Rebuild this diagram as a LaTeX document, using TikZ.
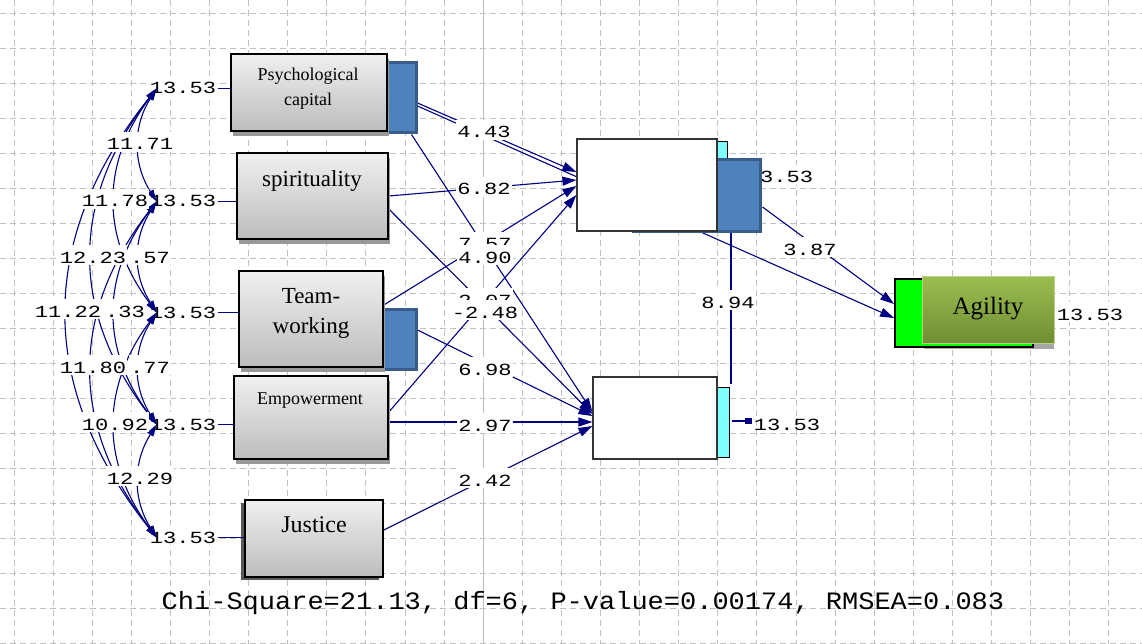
\documentclass[tikz,border=0pt]{standalone}
\usepackage{fontspec}
\setmainfont{Liberation Serif}
\newfontfamily\lisfont[FakeStretch=1.3]{Liberation Mono}
\newfontfamily\chifont[FakeStretch=1.08]{Liberation Mono}
\usetikzlibrary{arrows.meta,shadows,calc}
\pgfdeclarelayer{bg}
\pgfdeclarelayer{paths}
\pgfsetlayers{bg,paths,main}

\definecolor{pathblue}{RGB}{0,0,128}
\definecolor{gridgray}{RGB}{192,192,192}
\definecolor{boxtop}{RGB}{240,240,240}
\definecolor{boxbot}{RGB}{188,188,188}
\definecolor{errblue}{RGB}{79,129,189}
\definecolor{errborder}{RGB}{56,93,138}
\definecolor{aqua}{RGB}{128,255,255}
\definecolor{lime}{RGB}{0,255,0}
\definecolor{olivetop}{RGB}{155,190,80}
\definecolor{olivebot}{RGB}{112,142,52}

\tikzset{
  gridline/.style={draw=gridgray, line width=0.9pt, dash pattern=on 6pt off 4pt},
  gridsolid/.style={draw=gridgray, line width=1pt},
  exobase/.style={draw=black, line width=1.6pt, top color=boxtop, bottom color=boxbot, inner sep=0pt},
  exobox/.style={exobase, drop shadow={shadow xshift=2pt, shadow yshift=-5pt, fill=black!40, opacity=1}},
  errbox/.style={fill=errblue, draw=errborder, line width=3pt, inner sep=0pt},
  aquabox/.style={fill=aqua, draw=black, line width=0.9pt, inner sep=0pt},
  endobox/.style={fill=white, draw=black!80, line width=1.2pt, inner sep=0pt},
  num/.style={font=\lisfont\fontsize{17}{17}\selectfont, fill=white, inner sep=1pt,
              text height=17pt, text depth=1pt, anchor=base},
  reg/.style={draw=pathblue, line width=1.1pt, -{Triangle[length=14pt,width=9pt]}},
  link/.style={draw=pathblue, line width=1.1pt},
  cov/.style={draw=pathblue, line width=1.1pt,
              {Triangle[length=12pt,width=7pt]}-{Triangle[length=12pt,width=7pt]}},
}

\begin{document}
\begin{tikzpicture}[x=1pt,y=-1pt]
\useasboundingbox (0,0) rectangle (1142,644);

% dotted background grid
\begin{pgfonlayer}{bg}
  \fill[white] (0,0) rectangle (1142,644);
  \foreach \k in {0,...,28}{
    \pgfmathsetmacro\gx{14+39.1*\k}
    \ifnum\k=12
      \draw[gridsolid] (\gx,0) -- (\gx,644);
    \else
      \draw[gridline] (\gx,0) -- (\gx,644);
    \fi
  }
  \foreach \k in {0,...,18}{
    \draw[gridline] (0,{13+35*\k}) -- (1142,{13+35*\k});
  }
\end{pgfonlayer}

% exogenous variables
\node[errbox, minimum width=136pt, minimum height=70pt] (pcerr) at (348,98) {};
\node[errbox, minimum width=136pt, minimum height=60pt] (twerr) at (348,339) {};
\node[exobox, minimum width=156pt, minimum height=77pt] (pc) at (309,92.5) {};
\node[exobox, minimum width=151pt, minimum height=86pt] (sp) at (312.5,196) {};
\node[exobox, minimum width=144pt, minimum height=96pt] (tw) at (311,319) {};
\node[exobox, minimum width=154pt, minimum height=83pt] (em) at (311,417.5) {};
\node[exobase, minimum width=138pt, minimum height=77pt,
      drop shadow={shadow xshift=-4pt, shadow yshift=-3pt, fill=black!65, opacity=1}] (ju) at (314,538.5) {};

\node[font=\fontsize{18}{25}\selectfont, align=center] (pct) at (308,89) {Psychological\\capital};
\node[font=\fontsize{23}{23}\selectfont, anchor=base] (spt) at (312,187) {spirituality};
\node[font=\fontsize{23}{30}\selectfont, align=center] (twt) at (311,313) {Team-\\working};
\node[font=\fontsize{18}{18}\selectfont, anchor=base] (emt) at (310,404) {Empowerment};
\node[font=\fontsize{24}{24}\selectfont, anchor=base] (jut) at (314,532) {Justice};

% endogenous variables
\node[aquabox, minimum width=10pt, minimum height=86pt] (y1aq) at (722,184) {};
\node[num] (y1var) at (780,183) {13.53};
\node[errbox, minimum width=127pt, minimum height=72pt] (y1err) at (696.5,195.5) {};
\node[endobox, minimum width=140pt, minimum height=92pt] (y1) at (647,185) {};
\node[aquabox, minimum width=12pt, minimum height=70pt] (y2aq) at (723,422) {};
\node[endobox, minimum width=124pt, minimum height=82pt] (y2) at (655,418) {};
\node[num, fill=none] (y2var) at (787,430) {13.53};
\coordinate (y2tick) at ($(y2aq.east)+(3,-1)$);
\coordinate (y2tickend) at ($(y2aq.east)+(23,-1)$);
\draw[link, line width=1.5pt] (y2tick) -- (y2tickend);
\fill[pathblue] ($(y2tickend)+(-7,-3)$) rectangle ($(y2tickend)+(0,3)$);

% outcome variable
\node[num] (agvar) at (1090,320) {13.53};
\fill[black!35] (924,282) rectangle (1054,349);
\node[draw=black, line width=1.8pt, fill=lime, minimum width=138pt, minimum height=68pt] (aggreen) at (964,313) {};
\node[draw=olivetop!70!white, line width=1pt, top color=olivetop, bottom color=olivebot,
      minimum width=132pt, minimum height=67pt] (ag) at (988,309.5) {};
\node[font=\fontsize{25}{25}\selectfont, anchor=base] (agt) at (988,314) {Agility};

% variances of the exogenous variables
\node[num] (var1) at (183,94) {13.53};
\node[num] (var2) at (183,207) {13.53};
\node[num] (var3) at (183,318) {13.53};
\node[num] (var4) at (183,430) {13.53};
\node[num] (var5) at (183,543) {13.53};
\foreach \i/\b in {1/pc,2/sp,3/tw,4/em,5/ju}{
  \coordinate (v\i) at ($(var\i.base west)+(8,-5.5)$);
  \coordinate (v\i r) at ($(var\i.base east)+(1,-5.5)$);
  \draw[link] (v\i r) -- (v\i r -| \b.west);
}

% covariances
\foreach \a/\b/\k/\d in {1/2/24/38, 2/3/24/38, 3/4/24/38, 4/5/24/38,
                         1/3/56/75, 2/4/56/75, 3/5/56/75,
                         1/4/87/112, 2/5/87/112, 1/5/120/150}{
  \draw[cov] (v\a) .. controls +(-\k,\d) and +(-\k,-\d) .. (v\b);
}
\node[num] (c23) at (150,263) {.57};
\node[num] (c24) at (125,317) {.33};
\node[num] (c34) at (150,373) {.77};
\node[num] (c12) at (140,150) {11.71};
\node[num] (c13) at (115,207) {11.78};
\node[num] (c14) at (93,263) {12.23};
\node[num] (c15) at (68,317) {11.22};
\node[num] (c25) at (93,373) {11.80};
\node[num] (c35) at (115,430) {10.92};
\node[num] (c45) at (140,484) {12.29};

% structural paths
\begin{pgfonlayer}{paths}
  \coordinate (pcA) at ($(pcerr.east)+(0,5)$);
  \coordinate (pcB) at ($(pcerr.east)+(0,8)$);
  \coordinate (pcC) at ($(pcerr.south east)+(-6,0)$);
  \coordinate (spA) at (sp.east);
  \coordinate (spB) at ($(sp.east)+(0,13)$);
  \coordinate (twA) at ($(tw.east)+(0,-14)$);
  \coordinate (twB) at ($(twerr.east)+(0,-9)$);
  \coordinate (emA) at ($(em.east)+(0,-5.5)$);
  \coordinate (emB) at ($(em.east)+(0,4.5)$);
  \coordinate (juA) at ($(ju.east)+(0,-8.5)$);
  \coordinate (y1a) at ($(y1.west)+(0,-13)$);
  \coordinate (y1b) at ($(y1.west)+(0,-5)$);
  \coordinate (y1c) at ($(y1.west)+(0,1)$);
  \coordinate (y1d) at ($(y1.west)+(0,10)$);
  \coordinate (y2a) at ($(y2.west)+(0,-6)$);
  \coordinate (y2b) at ($(y2.west)+(0,-4)$);
  \coordinate (y2c) at ($(y2.west)+(0,-2)$);
  \coordinate (y2d) at ($(y2.west)+(0,4)$);
  \coordinate (y2e) at ($(y2.west)+(0,8)$);
  \coordinate (y1out) at ($(y1err.east)+(1,11.5)$);
  \coordinate (agA) at ($(aggreen.west)+(0,-9)$);
  \coordinate (agB) at ($(aggreen.west)+(0,5)$);
  \coordinate (y1down) at ($(y1err.south)+(34.5,0)$);
  \coordinate (y2up) at ($(y2aq.north)+(8,-3)$);

  \draw[reg] (pcA) -- (y1a);
  \draw[reg] (spA) -- (y1b);
  \draw[reg] (twA) -- (y1c);
  \draw[reg] (emA) -- (y1d);
  \draw[reg] (pcC) -- (y2a);
  \draw[reg] (spB) -- (y2b);
  \draw[reg] (twB) -- (y2c);
  \draw[reg] (emB) -- (y2d);
  \draw[reg] (juA) -- (y2e);
  \draw[reg] (pcB) -- (agB);
  \draw[reg] (y1out) -- (agA);
  \draw[link] (y1down) -- (y2up);
\end{pgfonlayer}

% path coefficients
\node[num] (l757) at (485,250) {7.57};
\node[num] (lem1) at (485,306) {2.07};
\node[num] (l443) at (484,138) {4.43};
\node[num] (l682) at (484,195) {6.82};
\node[num] (l490) at (485,263) {4.90};
\node[num] (l248) at (485,318) {-2.48};
\node[num] (l698) at (485,375) {6.98};
\node[num] (l297) at (485,431) {2.97};
\node[num] (l242) at (485,486) {2.42};
\node[num] (l387) at (810,255) {3.87};
\node[num] (l894) at (728,308) {8.94};

% goodness of fit
\node[font=\chifont\fontsize{25}{25}\selectfont, anchor=base] (fit) at (583,609)
  {Chi-Square=21.13, df=6, P-value=0.00174, RMSEA=0.083};
\end{tikzpicture}
\end{document}
